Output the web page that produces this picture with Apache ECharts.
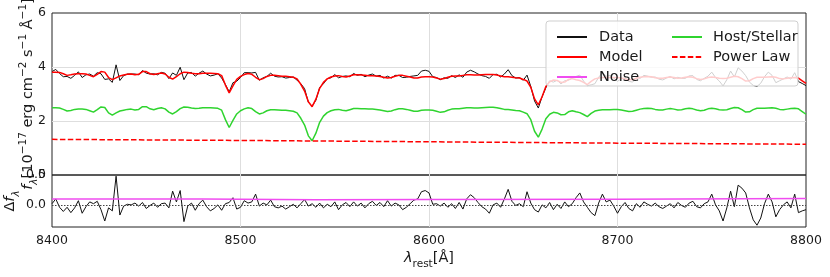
<!DOCTYPE html>
<html><head><meta charset="utf-8">
<script src="https://cdn.jsdelivr.net/npm/echarts@6/dist/echarts.min.js"></script>
<style>html,body{margin:0;padding:0;background:#fff}#c{width:830px;height:277px}</style>
</head><body><div id="c"></div>
<script>
// wavelength grid (Å), 2 Å sampling
const lamStart = 8400, lamStep = 2, nPts = 201;
const lambda = Array.from({length: nPts}, (_, i) => lamStart + lamStep * i);

const dataFlux = [
 3.83,3.91,3.76,3.64,3.65,3.58,3.69,3.82,3.61,3.71,
 3.74,3.66,3.79,3.75,3.54,3.56,3.43,4.08,3.50,3.68,
 3.74,3.74,3.74,3.71,3.87,3.77,3.74,3.75,3.71,3.80,
 3.77,3.57,3.78,3.69,3.99,3.53,3.78,3.80,3.66,3.77,
 3.85,3.74,3.67,3.70,3.75,3.59,3.35,3.08,3.42,3.47,
 3.61,3.79,3.79,3.78,3.80,3.51,3.60,3.65,3.77,3.66,
 3.63,3.64,3.59,3.61,3.63,3.51,3.38,3.20,2.69,2.55,
 2.77,3.24,3.38,3.57,3.60,3.72,3.60,3.65,3.67,3.64,
 3.76,3.69,3.73,3.64,3.70,3.74,3.66,3.69,3.59,3.66,
 3.59,3.69,3.69,3.61,3.62,3.65,3.67,3.69,3.85,3.88,
 3.84,3.64,3.61,3.53,3.60,3.58,3.68,3.61,3.71,3.62,
 3.81,3.88,3.82,3.74,3.68,3.65,3.58,3.72,3.73,3.63,
 3.74,3.90,3.68,3.59,3.61,3.51,3.70,3.28,2.74,2.48,
 2.90,3.23,3.49,3.44,3.51,3.37,3.49,3.51,3.59,3.65,
 3.70,3.48,3.31,3.34,3.38,3.62,3.79,3.66,3.69,3.59,
 3.47,3.56,3.60,3.47,3.44,3.60,3.58,3.69,3.66,3.62,
 3.63,3.55,3.52,3.59,3.65,3.56,3.62,3.58,3.58,3.67,
 3.68,3.54,3.49,3.58,3.66,3.81,3.61,3.48,3.30,3.53,
 3.85,3.63,3.97,3.85,3.68,3.44,3.32,3.28,3.40,3.64,
 3.81,3.69,3.42,3.49,3.56,3.63,3.55,3.79,3.46,3.39,
 3.31];

const modelFlux = [
 3.81,3.81,3.80,3.75,3.69,3.71,3.74,3.75,3.75,3.74,
 3.69,3.64,3.73,3.83,3.81,3.61,3.53,3.60,3.67,3.70,
 3.73,3.74,3.71,3.73,3.83,3.83,3.75,3.72,3.75,3.78,
 3.74,3.62,3.55,3.64,3.75,3.81,3.80,3.77,3.75,3.75,
 3.77,3.77,3.77,3.76,3.75,3.68,3.33,3.04,3.30,3.54,
 3.65,3.72,3.76,3.73,3.62,3.53,3.57,3.65,3.69,3.69,
 3.68,3.66,3.66,3.64,3.62,3.56,3.36,3.11,2.71,2.53,
 2.81,3.21,3.43,3.56,3.63,3.67,3.68,3.65,3.63,3.67,
 3.71,3.71,3.70,3.69,3.68,3.68,3.67,3.65,3.62,3.59,
 3.61,3.66,3.69,3.69,3.66,3.63,3.59,3.59,3.63,3.64,
 3.64,3.63,3.59,3.55,3.57,3.62,3.66,3.67,3.67,3.69,
 3.71,3.71,3.70,3.70,3.71,3.72,3.72,3.72,3.70,3.67,
 3.64,3.64,3.62,3.60,3.59,3.54,3.48,3.25,2.82,2.60,
 2.90,3.28,3.45,3.52,3.50,3.43,3.44,3.54,3.57,3.53,
 3.50,3.43,3.35,3.47,3.56,3.59,3.61,3.61,3.61,3.61,
 3.61,3.59,3.56,3.53,3.54,3.58,3.62,3.64,3.65,3.64,
 3.60,3.58,3.58,3.61,3.63,3.61,3.58,3.59,3.62,3.64,
 3.62,3.57,3.54,3.56,3.61,3.63,3.61,3.58,3.57,3.58,
 3.62,3.66,3.64,3.57,3.48,3.49,3.57,3.62,3.62,3.62,
 3.63,3.64,3.62,3.57,3.56,3.58,3.60,3.61,3.59,3.49,
 3.39];

const hostFlux = [
 2.49,2.49,2.48,2.43,2.37,2.39,2.43,2.44,2.44,2.43,
 2.38,2.33,2.42,2.52,2.50,2.30,2.22,2.30,2.37,2.40,
 2.43,2.44,2.41,2.43,2.53,2.53,2.45,2.42,2.46,2.49,
 2.45,2.33,2.26,2.35,2.46,2.52,2.51,2.48,2.46,2.47,
 2.49,2.49,2.49,2.48,2.47,2.40,2.05,1.76,2.02,2.26,
 2.38,2.45,2.49,2.46,2.35,2.26,2.30,2.38,2.42,2.42,
 2.41,2.40,2.40,2.38,2.36,2.30,2.10,1.85,1.45,1.27,
 1.55,1.95,2.18,2.31,2.38,2.42,2.43,2.40,2.38,2.42,
 2.46,2.46,2.45,2.45,2.44,2.44,2.43,2.41,2.38,2.35,
 2.37,2.42,2.45,2.45,2.43,2.40,2.36,2.36,2.40,2.41,
 2.41,2.40,2.36,2.32,2.34,2.40,2.44,2.45,2.45,2.47,
 2.49,2.49,2.48,2.48,2.49,2.50,2.51,2.51,2.49,2.46,
 2.43,2.43,2.41,2.39,2.38,2.33,2.27,2.05,1.62,1.40,
 1.70,2.08,2.25,2.32,2.30,2.23,2.24,2.34,2.38,2.34,
 2.31,2.24,2.16,2.28,2.37,2.40,2.42,2.42,2.42,2.43,
 2.43,2.41,2.38,2.35,2.36,2.40,2.44,2.46,2.47,2.46,
 2.43,2.41,2.41,2.44,2.46,2.44,2.41,2.42,2.45,2.47,
 2.45,2.41,2.38,2.40,2.45,2.47,2.45,2.42,2.41,2.42,
 2.46,2.50,2.49,2.42,2.33,2.34,2.42,2.47,2.47,2.47,
 2.48,2.49,2.47,2.43,2.42,2.44,2.46,2.47,2.45,2.35,
 2.25];

const residual = [
 0.02,0.10,-0.04,-0.11,-0.04,-0.13,-0.05,0.07,-0.14,-0.03,
 0.05,0.02,0.06,-0.08,-0.27,-0.05,-0.10,0.48,-0.17,-0.02,
 0.01,0.00,0.03,-0.02,0.04,-0.06,-0.01,0.03,-0.04,0.02,
 0.03,-0.05,0.23,0.05,0.24,-0.28,-0.02,0.03,-0.09,0.02,
 0.08,-0.03,-0.10,-0.06,0.00,-0.09,0.02,0.04,0.12,-0.07,
 -0.04,0.07,0.03,0.05,0.18,-0.02,0.03,0.00,0.08,-0.03,
 -0.05,-0.02,-0.07,-0.03,0.01,-0.05,0.02,0.09,-0.02,0.02,
 -0.04,0.03,-0.05,0.01,-0.03,0.05,-0.08,0.00,0.04,-0.03,
 0.05,-0.02,0.03,-0.05,0.02,0.06,-0.01,0.04,-0.03,0.07,
 -0.02,0.03,0.00,-0.08,-0.04,0.02,0.08,0.10,0.22,0.24,
 0.20,0.01,0.02,-0.02,0.03,-0.04,0.02,-0.06,0.04,-0.07,
 0.10,0.17,0.12,0.04,-0.03,-0.07,-0.14,0.00,0.03,-0.04,
 0.10,0.26,0.06,-0.01,0.02,-0.03,0.22,0.03,-0.08,-0.12,
 0.00,-0.05,0.04,-0.08,0.01,-0.06,0.05,-0.03,0.02,0.12,
 0.20,0.05,-0.04,-0.13,-0.18,0.03,0.18,0.05,0.08,-0.02,
 -0.14,-0.03,0.04,-0.06,-0.10,0.02,-0.04,0.05,0.01,-0.02,
 0.03,-0.03,-0.06,-0.02,0.02,-0.05,0.04,-0.01,-0.04,0.03,
 0.06,-0.03,-0.05,0.02,0.05,0.18,0.00,-0.10,-0.27,-0.05,
 0.23,-0.03,0.33,0.28,0.20,-0.05,-0.25,-0.34,-0.22,0.02,
 0.18,0.05,-0.20,-0.08,0.00,0.05,-0.05,0.18,-0.13,-0.10,
 -0.08];

const plLambda = [8400, 8500, 8600, 8700, 8800];
const powerLaw = [1.32, 1.28, 1.23, 1.18, 1.14];

const noiseLambda = [8400, 8480, 8540, 8600, 8700, 8800];
const noise = [0.10, 0.10, 0.085, 0.09, 0.095, 0.105];

const xTicks = [8400, 8500, 8600, 8700, 8800];
const fluxTicks = [0, 2, 4, 6];
const residTicks = [0.0, 0.5];

const pairs = (xs, ys) => xs.map((x, i) => [x, ys[i]]);

const FONT = 'DejaVu Sans';
const TXT = '#1a1a1a';
const GRIDC = '#dedede';

const chart = echarts.init(document.getElementById('c'), null, {renderer: 'canvas'});

const mainRich = {
  n: {fontFamily: FONT, fontSize: 14.5, color: TXT, padding: [0, 0, 4, 0], verticalAlign: 'bottom'},
  i: {fontFamily: FONT, fontSize: 14.5, color: TXT, fontStyle: 'italic', padding: [0, 0, 4, 0], verticalAlign: 'bottom'},
  s: {fontFamily: FONT, fontSize: 10.5, color: TXT, verticalAlign: 'bottom'},
  si: {fontFamily: FONT, fontSize: 10.5, color: TXT, fontStyle: 'italic', verticalAlign: 'bottom'},
  p: {fontFamily: FONT, fontSize: 10.5, color: TXT, padding: [0, 0, 11, 0], verticalAlign: 'bottom'}
};

const common = {type: 'line', symbol: 'none', silent: true, animation: false, z: 2};

chart.setOption({
  animation: false,
  textStyle: {fontFamily: FONT},
  grid: [
    {left: 52, right: 24, top: 13, height: 162, show: true, borderColor: '#222', borderWidth: 1,
     backgroundColor: 'transparent', containLabel: false, outerBoundsMode: 'none'},
    {left: 52, right: 24, top: 175, height: 52, show: true, borderColor: '#222', borderWidth: 1,
     backgroundColor: 'transparent', containLabel: false, outerBoundsMode: 'none'}
  ],
  xAxis: [
    {type: 'value', gridIndex: 0, min: xTicks[0], max: xTicks[xTicks.length - 1], interval: 100,
     axisLine: {show: false}, axisTick: {show: false}, axisLabel: {show: false},
     splitLine: {show: true, showMinLine: false, showMaxLine: false, lineStyle: {color: GRIDC, width: 1}}},
    {type: 'value', gridIndex: 1, min: xTicks[0], max: xTicks[xTicks.length - 1], interval: 100,
     axisLine: {show: false}, axisTick: {show: false},
     axisLabel: {show: true, fontFamily: FONT, fontSize: 12.5, color: TXT, margin: 7,
                 formatter: v => String(Math.round(v))},
     splitLine: {show: true, showMinLine: false, showMaxLine: false, lineStyle: {color: GRIDC, width: 1}},
     name: '{i|λ}{s|rest}{n|[Å]}', nameLocation: 'middle', nameGap: 24, nameMoveOverlap: false,
     nameTextStyle: {rich: mainRich}}
  ],
  yAxis: [
    {type: 'value', gridIndex: 0, min: fluxTicks[0], max: fluxTicks[fluxTicks.length - 1], interval: 2,
     axisLine: {show: false}, axisTick: {show: false},
     axisLabel: {fontFamily: FONT, fontSize: 12.5, color: TXT, margin: 6, showMinLabel: true, hideOverlap: false,
                 formatter: v => String(Math.round(v))},
     splitLine: {show: true, showMinLine: false, showMaxLine: false, lineStyle: {color: GRIDC, width: 1}},
     name: '{i|f}{si|λ}{n|[10}{p|−17}{n| erg cm}{p|−2}{n| s}{p|−1}{n| Å}{p|−1}{n|]}',
     nameLocation: 'middle', nameRotate: 90, nameGap: 12, nameMoveOverlap: false,
     nameTextStyle: {rich: mainRich}},
    {type: 'value', gridIndex: 1, min: -0.37, max: 0.5,
     axisLine: {show: false}, axisTick: {show: false},
     axisLabel: {fontFamily: FONT, fontSize: 12.5, color: TXT, margin: 6, customValues: residTicks,
                 formatter: v => Number(v).toFixed(1)},
     splitLine: {show: false},
     name: '{n|Δ}{i|f}{si|λ}', nameLocation: 'middle', nameRotate: 90, nameGap: 30, nameMoveOverlap: false,
     nameTextStyle: {rich: mainRich}}
  ],
  graphic: {elements: [
    {type: 'rect', z: 3, silent: true,
     shape: {x: 546, y: 21, width: 252, height: 65, r: 3},
     style: {fill: 'rgba(255,255,255,0.8)', stroke: '#cfcfcf', lineWidth: 1}}
  ]},
  legend: [
    {data: ['Data', 'Model', 'Noise'], orient: 'vertical', left: 551, top: 24.5, z: 4,
     itemWidth: 30, itemHeight: 14, itemGap: 5, selectedMode: false,
     itemStyle: {opacity: 0},
     textStyle: {fontFamily: FONT, fontSize: 14.5, color: TXT, lineHeight: 15, padding: [0, 0, 0, 7]}},
    {data: ['Host/Stellar', 'Power Law'], orient: 'vertical', left: 666, top: 24.5, z: 4,
     itemWidth: 30, itemHeight: 14, itemGap: 5, selectedMode: false,
     itemStyle: {opacity: 0},
     textStyle: {fontFamily: FONT, fontSize: 14.5, color: TXT, lineHeight: 15, padding: [0, 0, 0, 6]}}
  ],
  series: [
    Object.assign({}, common, {name: 'Data', xAxisIndex: 0, yAxisIndex: 0,
      data: pairs(lambda, dataFlux), color: '#111', lineStyle: {color: '#111', width: 1}}),
    Object.assign({}, common, {name: 'Model', xAxisIndex: 0, yAxisIndex: 0,
      data: pairs(lambda, modelFlux), color: '#ff0000', lineStyle: {color: '#ff0000', width: 1.5}}),
    Object.assign({}, common, {name: 'Host/Stellar', xAxisIndex: 0, yAxisIndex: 0,
      data: pairs(lambda, hostFlux), color: '#2fd42f', lineStyle: {color: '#2fd42f', width: 1.5}}),
    Object.assign({}, common, {name: 'Power Law', xAxisIndex: 0, yAxisIndex: 0,
      data: pairs(plLambda, powerLaw), color: '#ff0000', lineStyle: {color: '#ff0000', width: 1.5, type: [5.5, 2.4]}}),
    Object.assign({}, common, {name: 'Residual', xAxisIndex: 1, yAxisIndex: 1,
      data: pairs(lambda, residual), color: '#111', lineStyle: {color: '#111', width: 1},
      markLine: {silent: true, symbol: 'none', animation: false, label: {show: false},
        lineStyle: {color: '#444', width: 1, type: [1.5, 1.5]}, data: [{yAxis: 0}]}}),
    Object.assign({}, common, {name: 'Noise', xAxisIndex: 1, yAxisIndex: 1,
      data: pairs(noiseLambda, noise), color: '#f04cf0', lineStyle: {color: '#f04cf0', width: 1.5}})
  ]
});
</script></body></html>
